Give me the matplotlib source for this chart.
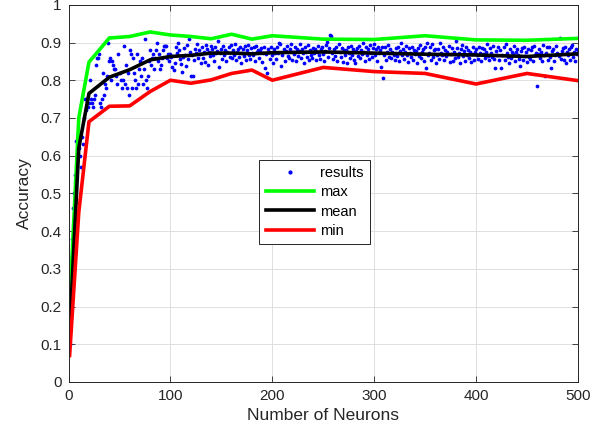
import numpy as np
import matplotlib
matplotlib.use("Agg")
import matplotlib.pyplot as plt

# number of neurons used for each single run (one run per size)
neurons = np.arange(1, 501)

# accuracy of each run in blocks of 20
acc_results = [
    0.10, 0.27, 0.38, 0.46, 0.50, 0.55, 0.64, 0.60, 0.62, 0.62, 0.60, 0.57, 0.65, 0.63, 0.70, 0.75, 0.72, 0.75, 0.73, 0.74,
    0.80, 0.75, 0.74, 0.73, 0.75, 0.76, 0.84, 0.86, 0.86, 0.87, 0.74, 0.73, 0.75, 0.82, 0.76, 0.79, 0.78, 0.81, 0.90, 0.85,
    0.86, 0.80, 0.85, 0.84, 0.83, 0.83, 0.81, 0.79, 0.87, 0.82, 0.80, 0.78, 0.80, 0.89, 0.79, 0.84, 0.78, 0.82, 0.76, 0.88,
    0.87, 0.78, 0.86, 0.82, 0.80, 0.78, 0.87, 0.79, 0.83, 0.85, 0.81, 0.86, 0.79, 0.83, 0.91, 0.80, 0.78, 0.81, 0.85, 0.88,
    0.84, 0.86, 0.87, 0.83, 0.86, 0.88, 0.90, 0.85, 0.87, 0.83, 0.84, 0.86, 0.88, 0.89, 0.89, 0.89, 0.86, 0.87, 0.85, 0.87,
    0.861, 0.834, 0.828, 0.847, 0.889, 0.872, 0.900, 0.879, 0.856, 0.843, 0.822, 0.862, 0.885, 0.868, 0.838, 0.893, 0.857, 0.910, 0.874, 0.812,
    0.866, 0.811, 0.853, 0.884, 0.871, 0.896, 0.858, 0.881, 0.869, 0.846, 0.887, 0.859, 0.876, 0.848, 0.893, 0.882, 0.841, 0.874, 0.863, 0.890,
    0.884, 0.867, 0.851, 0.889, 0.873, 0.878, 0.905, 0.835, 0.871, 0.883, 0.857, 0.892, 0.866, 0.879, 0.852, 0.874, 0.887, 0.862, 0.893, 0.858,
    0.881, 0.868, 0.897, 0.855, 0.876, 0.884, 0.861, 0.889, 0.846, 0.872, 0.883, 0.864, 0.891, 0.853, 0.879, 0.894, 0.868, 0.857, 0.886, 0.873,
    0.866, 0.888, 0.852, 0.892, 0.874, 0.881, 0.859, 0.877, 0.885, 0.849, 0.871, 0.887, 0.832, 0.869, 0.820, 0.882, 0.874, 0.856, 0.889, 0.867,
    0.845, 0.884, 0.871, 0.857, 0.888, 0.873, 0.900, 0.897, 0.838, 0.866, 0.882, 0.851, 0.877, 0.892, 0.863, 0.859, 0.883, 0.895, 0.854, 0.876,
    0.869, 0.887, 0.851, 0.882, 0.864, 0.878, 0.896, 0.858, 0.884, 0.871, 0.847, 0.889, 0.874, 0.862, 0.893, 0.855, 0.881, 0.867, 0.859, 0.886,
    0.872, 0.884, 0.853, 0.876, 0.891, 0.866, 0.857, 0.882, 0.888, 0.869, 0.851, 0.878, 0.894, 0.901, 0.862, 0.885, 0.920, 0.918, 0.871, 0.856,
    0.883, 0.864, 0.889, 0.852, 0.895, 0.874, 0.861, 0.886, 0.848, 0.879, 0.867, 0.881, 0.845, 0.887, 0.871, 0.858, 0.892, 0.866, 0.884, 0.853,
    0.845, 0.877, 0.886, 0.863, 0.892, 0.858, 0.881, 0.869, 0.900, 0.874, 0.852, 0.889, 0.866, 0.883, 0.857, 0.894, 0.871, 0.862, 0.885, 0.897,
    0.868, 0.884, 0.851, 0.889, 0.872, 0.879, 0.836, 0.887, 0.807, 0.866, 0.888, 0.854, 0.876, 0.893, 0.861, 0.882, 0.858, 0.874, 0.867, 0.855,
    0.886, 0.863, 0.889, 0.852, 0.877, 0.898, 0.868, 0.883, 0.857, 0.874, 0.892, 0.866, 0.848, 0.885, 0.871, 0.861, 0.889, 0.853, 0.881, 0.869,
    0.878, 0.845, 0.886, 0.864, 0.893, 0.859, 0.876, 0.884, 0.851, 0.889, 0.832, 0.900, 0.866, 0.873, 0.887, 0.855, 0.895, 0.862, 0.879, 0.883,
    0.845, 0.868, 0.884, 0.857, 0.900, 0.873, 0.866, 0.889, 0.853, 0.881, 0.864, 0.876, 0.892, 0.848, 0.869, 0.885, 0.850, 0.874, 0.858, 0.903,
    0.886, 0.862, 0.871, 0.846, 0.883, 0.894, 0.865, 0.878, 0.852, 0.889, 0.867, 0.881, 0.858, 0.874, 0.848, 0.869, 0.887, 0.855, 0.876, 0.884,
    0.866, 0.857, 0.888, 0.873, 0.851, 0.885, 0.869, 0.882, 0.859, 0.876, 0.897, 0.864, 0.853, 0.886, 0.872, 0.861, 0.891, 0.856, 0.832, 0.878,
    0.868, 0.887, 0.855, 0.879, 0.832, 0.866, 0.889, 0.853, 0.897, 0.873, 0.862, 0.846, 0.884, 0.858, 0.876, 0.869, 0.891, 0.852, 0.874, 0.883,
    0.867, 0.856, 0.838, 0.878, 0.886, 0.853, 0.889, 0.864, 0.875, 0.849, 0.883, 0.861, 0.857, 0.879, 0.887, 0.851, 0.892, 0.866, 0.871, 0.785,
    0.869, 0.884, 0.858, 0.876, 0.852, 0.894, 0.866, 0.810, 0.873, 0.887, 0.855, 0.889, 0.862, 0.832, 0.877, 0.884, 0.851, 0.868, 0.891, 0.873,
    0.864, 0.912, 0.857, 0.878, 0.886, 0.853, 0.889, 0.846, 0.874, 0.866, 0.883, 0.855, 0.887, 0.893, 0.862, 0.876, 0.851, 0.884, 0.869, 0.879,
]

# summary curves
n_summary = [1, 10, 20, 40, 60, 80, 100, 120, 140, 160, 180, 200, 250, 300, 350, 400, 450, 500]
acc_max = [0.20, 0.70, 0.848, 0.912, 0.916, 0.928, 0.920, 0.916, 0.910, 0.922, 0.909, 0.918, 0.909, 0.908, 0.918, 0.907, 0.906, 0.911]
acc_mean = [0.13, 0.62, 0.765, 0.808, 0.828, 0.854, 0.863, 0.866, 0.872, 0.872, 0.870, 0.873, 0.875, 0.872, 0.869, 0.867, 0.863, 0.870]
acc_min = [0.07, 0.45, 0.690, 0.731, 0.732, 0.770, 0.800, 0.792, 0.801, 0.818, 0.827, 0.800, 0.834, 0.823, 0.818, 0.790, 0.818, 0.799]

y_ticks = [0, 0.1, 0.2, 0.3, 0.4, 0.5, 0.6, 0.7, 0.8, 0.9, 1]
y_labels = ["0", "0.1", "0.2", "0.3", "0.4", "0.5", "0.6", "0.7", "0.8", "0.9", "1"]
x_ticks = [0, 100, 200, 300, 400, 500]

axcol = (0.15, 0.15, 0.15)
plt.rcParams["font.family"] = ["Liberation Sans", "DejaVu Sans"]

fig = plt.figure(figsize=(6.07, 4.38), dpi=100)
ax = fig.add_axes([0.113, 0.128, 0.839, 0.861])

ax.plot(neurons, acc_results, linestyle="none", marker="o", markersize=2.7,
        markeredgewidth=0, color=(0, 0, 1), label="results")
ax.plot(n_summary, acc_max, color=(0, 1, 0), linewidth=2.6, label="max")
ax.plot(n_summary, acc_mean, color="black", linewidth=2.6, label="mean")
ax.plot(n_summary, acc_min, color=(1, 0, 0), linewidth=2.6, label="min")

ax.set_xlim(0, 500)
ax.set_ylim(0, 1)
ax.set_xticks(x_ticks)
ax.set_yticks(y_ticks)
ax.set_yticklabels(y_labels)
ax.grid(True, color=(0.87, 0.87, 0.87), linewidth=0.7)
ax.set_axisbelow(True)
ax.tick_params(direction="in", length=4, width=0.6, colors=axcol,
               labelsize=11, top=True, right=True, pad=5)
for sp in ax.spines.values():
    sp.set_color(axcol)
    sp.set_linewidth(0.7)

ax.set_xlabel("Number of Neurons", fontsize=12.5, color=axcol, labelpad=4)
ax.set_ylabel("Accuracy", fontsize=12.5, color=axcol, labelpad=6)

leg = ax.legend(loc="upper left", bbox_to_anchor=(0.3745, 0.589), fontsize=10.5,
                frameon=True, fancybox=False, edgecolor=axcol, framealpha=1,
                handlelength=3.3, labelspacing=0.35, borderpad=0.45,
                handletextpad=0.4, borderaxespad=0)
leg.get_frame().set_linewidth(0.7)
leg.legend_handles[0].set_markersize(3)

fig.savefig("out.png", dpi=100)
